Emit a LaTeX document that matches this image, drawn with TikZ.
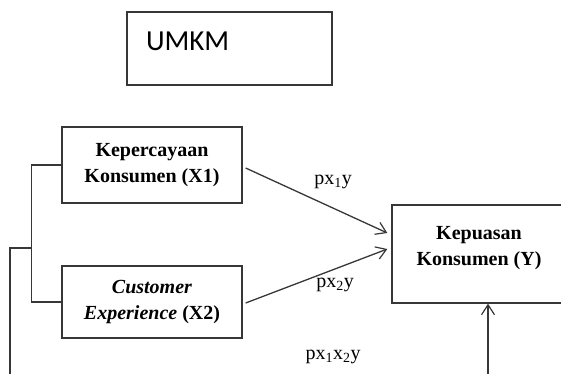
\documentclass[tikz,border=0pt]{standalone}
\usepackage{fontspec}
\setmainfont{Liberation Serif}
\newfontfamily\calibri{Carlito}
\usepackage{tikz}
\usetikzlibrary{positioning, arrows.meta, calc}
\definecolor{garis}{RGB}{55, 55, 55}

\begin{document}
\begin{tikzpicture}[x=1pt, y=-1pt, line width=1.3pt, draw=garis,
    kotak/.style={draw=garis, rectangle, align=center, inner sep=0pt,
        font=\fontsize{20}{26}\selectfont\bfseries},
    panah/.style={-{Straight Barb[length=10pt, width=13pt, line width=1.2pt]}},
    lbl/.style={font=\fontsize{20}{24}\selectfont, inner sep=0pt}]
    \useasboundingbox (0,0) rectangle (561,373);
    \clip (0,0) rectangle (561,373);

    % Kotak UMKM
    \node[draw=garis, minimum width=205pt, minimum height=73pt, inner sep=0pt] (umkm) at (229.5,48.5) {};
    \node[anchor=west, font=\calibri\fontsize{29}{30}\selectfont, inner sep=0pt] (umkmlbl) at ($(umkm.west)+(19,-7)$) {UMKM};

    % Variabel
    \node[kotak, minimum width=180pt, minimum height=76pt] (x1) at (152,165) {Kepercayaan\\Konsumen (X1)};
    \node[kotak, minimum width=180pt, minimum height=72pt] (x2) at (152,302) {\textit{Customer}\\\textit{Experience} (X2)};
    \node[kotak, minimum width=174pt, minimum height=98pt] (y) at (479,254) {Kepuasan\\Konsumen (Y)\\[-10pt]};

    % Garis kiri
    \coordinate (jn) at ($(x1.west)+(-30,83)$);
    \coordinate (bawahkiri) at (10,380);
    \coordinate (bawahkanan) at ($(y.south)+(9,80)$);
    \draw (x1.west) -- ++(-30,0) |- (x2.west);
    \draw (jn) -| (bawahkiri);

    % Panah ke Y
    \draw[panah] ($(x1.east)+(3,3)$) -- ($(y.west)+(-4,-21)$);
    \draw[panah] ($(x2.east)+(3,1)$) -- ($(y.west)+(-4,-5)$);
    \draw[panah] (bawahkanan) -- ($(y.south)+(9,0)$);

    % Label jalur
    \node[lbl] (p1) at (333,182) {px\textsubscript{1}y};
    \node[lbl] (p2) at (335,285) {px\textsubscript{2}y};
    \node[lbl] (p12) at (333,357) {px\textsubscript{1}x\textsubscript{2}y};
\end{tikzpicture}
\end{document}
